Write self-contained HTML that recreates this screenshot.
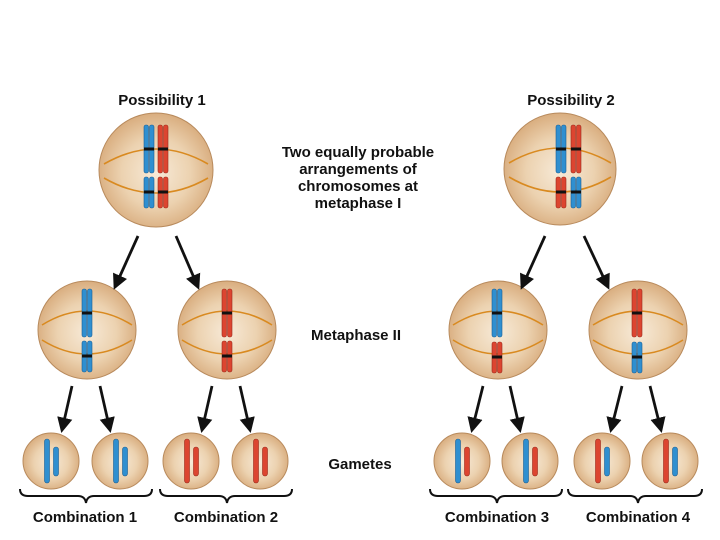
<!DOCTYPE html>
<html><head><meta charset="utf-8"><style>
html,body{margin:0;padding:0;background:#fff;}
svg{display:block}
text{font-family:"Liberation Sans",Arial,sans-serif;font-weight:bold;fill:#111;}
</style></head><body>
<svg width="720" height="540" viewBox="0 0 720 540" xmlns="http://www.w3.org/2000/svg">
<defs>
<radialGradient id="cg" cx="50%" cy="52%" r="55%">
<stop offset="0" stop-color="#f7ead8"/><stop offset="0.55" stop-color="#ecd2b0"/><stop offset="1" stop-color="#d6a878"/>
</radialGradient>
<marker id="ah" viewBox="0 0 10 10" refX="8" refY="5" markerWidth="5.5" markerHeight="6" orient="auto">
<path d="M0,0 L10,5 L0,10 z" fill="#111"/></marker>
<g id="LB"><rect x="-5" y="-24" width="4.5" height="48" rx="2" fill="#2f8fd0" stroke="#1b5f95" stroke-width="0.6"/><rect x="0.5" y="-24" width="4.5" height="48" rx="2" fill="#2f8fd0" stroke="#1b5f95" stroke-width="0.6"/><rect x="-5" y="-1.5" width="10" height="3" fill="#111"/></g>
<g id="LR"><rect x="-5" y="-24" width="4.5" height="48" rx="2" fill="#dc4530" stroke="#9b2a1c" stroke-width="0.6"/><rect x="0.5" y="-24" width="4.5" height="48" rx="2" fill="#dc4530" stroke="#9b2a1c" stroke-width="0.6"/><rect x="-5" y="-1.5" width="10" height="3" fill="#111"/></g>
<g id="SB"><rect x="-5" y="-15" width="4.5" height="31" rx="2" fill="#2f8fd0" stroke="#1b5f95" stroke-width="0.6"/><rect x="0.5" y="-15" width="4.5" height="31" rx="2" fill="#2f8fd0" stroke="#1b5f95" stroke-width="0.6"/><rect x="-5" y="-1.5" width="10" height="3" fill="#111"/></g>
<g id="SR"><rect x="-5" y="-15" width="4.5" height="31" rx="2" fill="#dc4530" stroke="#9b2a1c" stroke-width="0.6"/><rect x="0.5" y="-15" width="4.5" height="31" rx="2" fill="#dc4530" stroke="#9b2a1c" stroke-width="0.6"/><rect x="-5" y="-1.5" width="10" height="3" fill="#111"/></g>
<g id="gB"><rect x="-2.5" y="-22" width="5" height="44" rx="2.5" fill="#2f8fd0" stroke="#1b5f95" stroke-width="0.6"/></g>
<g id="gR"><rect x="-2.5" y="-22" width="5" height="44" rx="2.5" fill="#dc4530" stroke="#9b2a1c" stroke-width="0.6"/></g>
<g id="sB"><rect x="-2.5" y="-14" width="5" height="29" rx="2.5" fill="#2f8fd0" stroke="#1b5f95" stroke-width="0.6"/></g>
<g id="sR"><rect x="-2.5" y="-14" width="5" height="29" rx="2.5" fill="#dc4530" stroke="#9b2a1c" stroke-width="0.6"/></g>
</defs>

<g>
<circle cx="156" cy="170" r="57" fill="url(#cg)" stroke="#b88a5c" stroke-width="1"/>
<path d="M104,164 Q156,134 208,164" fill="none" stroke="#d98a20" stroke-width="1.6"/>
<path d="M104,178 Q156,208 208,178" fill="none" stroke="#d98a20" stroke-width="1.6"/>
<use href="#LB" x="149" y="149"/><use href="#LR" x="163" y="149"/>
<use href="#SB" x="149" y="192"/><use href="#SR" x="163" y="192"/>
</g>
<g>
<circle cx="560" cy="169" r="56" fill="url(#cg)" stroke="#b88a5c" stroke-width="1"/>
<path d="M509,163 Q560,133 611,163" fill="none" stroke="#d98a20" stroke-width="1.6"/>
<path d="M509,177 Q560,207 611,177" fill="none" stroke="#d98a20" stroke-width="1.6"/>
<use href="#LB" x="561" y="149"/><use href="#LR" x="576" y="149"/>
<use href="#SR" x="561" y="192"/><use href="#SB" x="576" y="192"/>
</g>

<g>
<circle cx="87" cy="330" r="49" fill="url(#cg)" stroke="#b88a5c" stroke-width="1"/>
<path d="M42,325 Q87,297 132,325" fill="none" stroke="#d98a20" stroke-width="1.6"/>
<path d="M42,340 Q87,368 132,340" fill="none" stroke="#d98a20" stroke-width="1.6"/>
<use href="#LB" x="87" y="313"/><use href="#SB" x="87" y="356"/>
</g>
<g>
<circle cx="227" cy="330" r="49" fill="url(#cg)" stroke="#b88a5c" stroke-width="1"/>
<path d="M182,325 Q227,297 272,325" fill="none" stroke="#d98a20" stroke-width="1.6"/>
<path d="M182,340 Q227,368 272,340" fill="none" stroke="#d98a20" stroke-width="1.6"/>
<use href="#LR" x="227" y="313"/><use href="#SR" x="227" y="356"/>
</g>
<g>
<circle cx="498" cy="330" r="49" fill="url(#cg)" stroke="#b88a5c" stroke-width="1"/>
<path d="M453,325 Q498,297 543,325" fill="none" stroke="#d98a20" stroke-width="1.6"/>
<path d="M453,340 Q498,368 543,340" fill="none" stroke="#d98a20" stroke-width="1.6"/>
<use href="#LB" x="497" y="313"/><use href="#SR" x="497" y="357"/>
</g>
<g>
<circle cx="638" cy="330" r="49" fill="url(#cg)" stroke="#b88a5c" stroke-width="1"/>
<path d="M593,325 Q638,297 683,325" fill="none" stroke="#d98a20" stroke-width="1.6"/>
<path d="M593,340 Q638,368 683,340" fill="none" stroke="#d98a20" stroke-width="1.6"/>
<use href="#LR" x="637" y="313"/><use href="#SB" x="637" y="357"/>
</g>

<g stroke="#b88a5c" stroke-width="1" fill="url(#cg)">
<circle cx="51" cy="461" r="28"/><circle cx="120" cy="461" r="28"/>
<circle cx="191" cy="461" r="28"/><circle cx="260" cy="461" r="28"/>
<circle cx="462" cy="461" r="28"/><circle cx="530" cy="461" r="28"/>
<circle cx="602" cy="461" r="28"/><circle cx="670" cy="461" r="28"/>
</g>
<use href="#gB" x="47" y="461"/><use href="#sB" x="56" y="461"/>
<use href="#gB" x="116" y="461"/><use href="#sB" x="125" y="461"/>
<use href="#gR" x="187" y="461"/><use href="#sR" x="196" y="461"/>
<use href="#gR" x="256" y="461"/><use href="#sR" x="265" y="461"/>
<use href="#gB" x="458" y="461"/><use href="#sR" x="467" y="461"/>
<use href="#gB" x="526" y="461"/><use href="#sR" x="535" y="461"/>
<use href="#gR" x="598" y="461"/><use href="#sB" x="607" y="461"/>
<use href="#gR" x="666" y="461"/><use href="#sB" x="675" y="461"/>

<g stroke="#111" stroke-width="2.8" fill="none" marker-end="url(#ah)">
<line x1="138" y1="236" x2="115" y2="287"/>
<line x1="176" y1="236" x2="198" y2="287"/>
<line x1="545" y1="236" x2="522" y2="287"/>
<line x1="584" y1="236" x2="608" y2="287"/>
<line x1="72" y1="386" x2="62" y2="430"/>
<line x1="100" y1="386" x2="110" y2="430"/>
<line x1="212" y1="386" x2="202" y2="430"/>
<line x1="240" y1="386" x2="250" y2="430"/>
<line x1="483" y1="386" x2="472" y2="430"/>
<line x1="510" y1="386" x2="520" y2="430"/>
<line x1="622" y1="386" x2="611" y2="430"/>
<line x1="650" y1="386" x2="661" y2="430"/>
</g>

<g stroke="#111" stroke-width="2" fill="none">
<path d="M20,489 Q20,496 28,496 L78,496 Q85,496 86,503 Q87,496 94,496 L144,496 Q152,496 152,489"/>
<path d="M160,489 Q160,496 168,496 L219,496 Q226,496 227,503 Q228,496 235,496 L284,496 Q292,496 292,489"/>
<path d="M430,489 Q430,496 438,496 L489,496 Q496,496 497,503 Q498,496 505,496 L554,496 Q562,496 562,489"/>
<path d="M568,489 Q568,496 576,496 L630,496 Q637,496 638,503 Q639,496 646,496 L694,496 Q702,496 702,489"/>
</g>

<g font-size="15" text-anchor="middle">
<text x="162" y="105">Possibility 1</text>
<text x="571" y="105">Possibility 2</text>
<text x="358" y="157">Two equally probable</text>
<text x="358" y="174">arrangements of</text>
<text x="358" y="191">chromosomes at</text>
<text x="358" y="208">metaphase I</text>
<text x="356" y="340">Metaphase II</text>
<text x="360" y="469">Gametes</text>
<text x="85" y="522">Combination 1</text>
<text x="226" y="522">Combination 2</text>
<text x="497" y="522">Combination 3</text>
<text x="638" y="522">Combination 4</text>
</g>
</svg>
</body></html>
